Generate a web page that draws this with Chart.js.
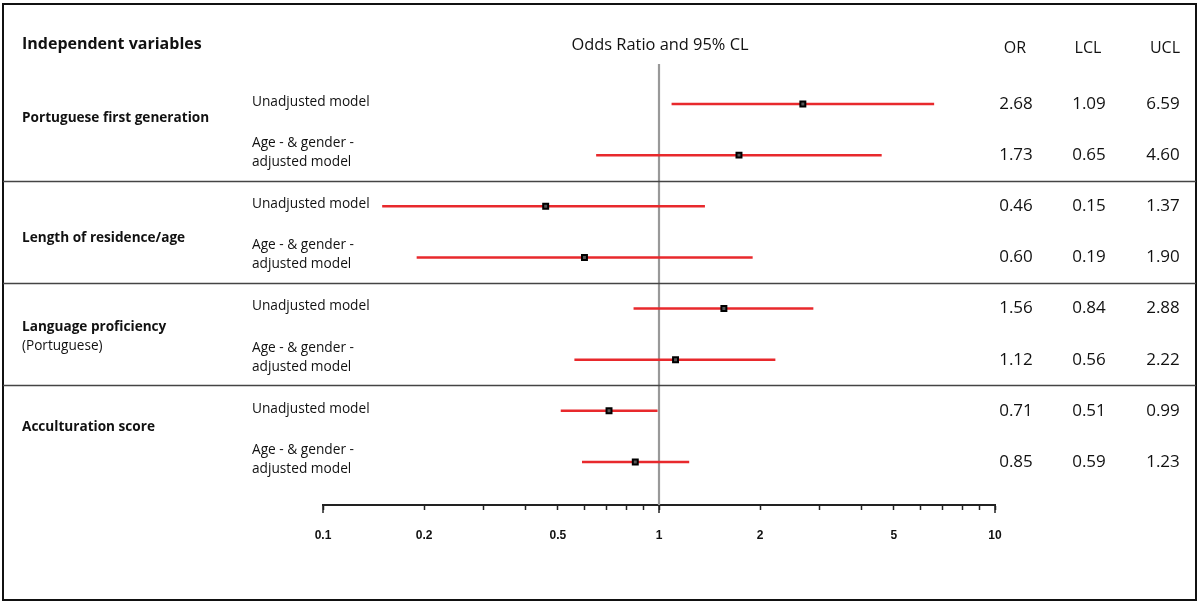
<!DOCTYPE html>
<html>
<head>
<meta charset="utf-8">
<script src="https://cdn.jsdelivr.net/npm/chart.js@4.4.1/dist/chart.umd.min.js"></script>
<style>
  html, body { margin: 0; padding: 0; background: #fff; }
</style>
</head>
<body>
<canvas id="forestChart" width="1200" height="604"></canvas>
<script>
const variables = ["Portuguese first generation", "Length of residence/age", "Language proficiency", "Acculturation score"];
const variableNotes = ["", "", "(Portuguese)", ""];
const models = ["Unadjusted model", "Age - & gender -|adjusted model"];
const oddsRatio = [2.68, 1.73, 0.46, 0.60, 1.56, 1.12, 0.71, 0.85];
const lowerCL = [1.09, 0.65, 0.15, 0.19, 0.84, 0.56, 0.51, 0.59];
const upperCL = [6.59, 4.60, 1.37, 1.90, 2.88, 2.22, 0.99, 1.23];
const tickValues = [0.1, 0.2, 0.3, 0.4, 0.5, 0.6, 0.7, 0.8, 0.9, 1, 2, 3, 4, 5, 6, 7, 8, 9, 10];
const tickLabels = ["0.1", "0.2", "0.5", "1", "2", "5", "10"];
const majorTicks = [0.1, 1, 10];

// y range in row units so that rows land where the reference puts them
const yMin = -0.782;
const yMax = 7.841;

const FONT = "'Open Sans', 'Noto Sans', sans-serif";
const RED = "#e8292c";

const datasets = [];

// reference line at OR = 1
datasets.push({
  data: [{ x: 1, y: yMin }, { x: 1, y: yMax }],
  showLine: true,
  borderColor: "#999",
  borderWidth: 2.2,
  pointRadius: 0,
  order: 3,
});

// confidence intervals
oddsRatio.forEach((or, i) => {
  datasets.push({
    data: [{ x: lowerCL[i], y: i }, { x: upperCL[i], y: i }],
    showLine: true,
    borderColor: RED,
    borderWidth: 2.5,
    pointRadius: 0,
    order: 2,
  });
});

// point estimates
datasets.push({
  data: oddsRatio.map((or, i) => ({ x: or, y: i })),
  pointStyle: "rect",
  pointRadius: 3.5,
  backgroundColor: "#555",
  borderColor: "#000",
  borderWidth: 2,
  order: 1,
});

const textPlugin = {
  id: "forestText",
  afterDraw(chart) {
    const ctx = chart.ctx;
    const ys = chart.scales.y;
    const xs = chart.scales.x;
    ctx.save();

    // frame and group separators
    ctx.strokeStyle = "#111";
    ctx.lineWidth = 2;
    ctx.strokeRect(3, 4, 1193, 596);
    ctx.strokeStyle = "#444";
    ctx.lineWidth = 1.5;
    [1.5, 3.5, 5.5].forEach((v) => {
      const py = Math.round(ys.getPixelForValue(v)) + 0.5;
      ctx.beginPath();
      ctx.moveTo(3, py);
      ctx.lineTo(1196, py);
      ctx.stroke();
    });

    // longer major ticks
    ctx.strokeStyle = "#222";
    ctx.lineWidth = 1.5;
    majorTicks.forEach((v) => {
      const px = xs.getPixelForValue(v);
      ctx.beginPath();
      ctx.moveTo(px, chart.chartArea.bottom);
      ctx.lineTo(px, chart.chartArea.bottom + 8);
      ctx.stroke();
    });

    ctx.fillStyle = "#111";
    ctx.textBaseline = "middle";

    // headers
    ctx.font = "bold 16px " + FONT;
    ctx.textAlign = "left";
    ctx.fillText("Independent variables", 22, 44);
    ctx.font = "16.4px " + FONT;
    ctx.textAlign = "center";
    ctx.fillText("Odds Ratio and 95% CL", 660, 45);
    ctx.font = "16px " + FONT;
    ctx.fillText("OR", 1015, 48);
    ctx.fillText("LCL", 1088, 48);
    ctx.fillText("UCL", 1165, 48);

    // variable labels
    const groupOffset = [0.27, 0.62, 0.36, 0.32];
    variables.forEach((name, g) => {
      const py = ys.getPixelForValue(2 * g + groupOffset[g]);
      ctx.textAlign = "left";
      ctx.font = "bold 13.6px " + FONT;
      ctx.fillText(name, 22, py);
      if (variableNotes[g]) {
        ctx.font = "13.6px " + FONT;
        ctx.fillText(variableNotes[g], 22, py + 19);
      }
    });

    // model labels and values
    oddsRatio.forEach((or, i) => {
      const py = ys.getPixelForValue(i);
      const lines = models[i % 2].split("|");
      ctx.textAlign = "left";
      ctx.font = "13.7px " + FONT;
      if (lines.length === 1) {
        ctx.fillText(lines[0], 252, py - 2);
      } else {
        ctx.fillText(lines[0], 252, py - 12);
        ctx.fillText(lines[1], 252, py + 7);
      }
      ctx.textAlign = "center";
      ctx.font = "17px " + FONT;
      ctx.fillText(or.toFixed(2), 1016, py);
      ctx.fillText(lowerCL[i].toFixed(2), 1089, py);
      ctx.fillText(upperCL[i].toFixed(2), 1163, py);
    });

    ctx.restore();
  },
};

const config = {
  type: "scatter",
  data: { datasets: datasets },
  options: {
    responsive: false,
    animation: false,
    layout: { padding: { left: 323, right: 205, top: 64, bottom: 0 } },
    plugins: { legend: { display: false }, tooltip: { enabled: false } },
    scales: {
      x: {
        type: "logarithmic",
        min: 0.1,
        max: 10,
        afterBuildTicks: (scale) => {
          scale.ticks = tickValues.map((v) => ({ value: v }));
        },
        afterFit: (scale) => {
          scale.height = 99;
        },
        grid: { drawOnChartArea: false, drawTicks: true, tickLength: 5, tickColor: "#222", tickWidth: 1.5 },
        border: { display: true, color: "#222", width: 2 },
        ticks: {
          autoSkip: false,
          maxRotation: 0,
          padding: 18,
          color: "#111",
          font: { family: "'Liberation Sans', sans-serif", size: 12, weight: "bold" },
          callback: (value) => (tickLabels.includes(String(value)) ? String(value) : ""),
        },
      },
      y: {
        type: "linear",
        reverse: true,
        min: yMin,
        max: yMax,
        display: false,
      },
    },
  },
  plugins: [textPlugin],
};

const forestChart = new Chart(document.getElementById("forestChart"), config);
</script>
</body>
</html>
